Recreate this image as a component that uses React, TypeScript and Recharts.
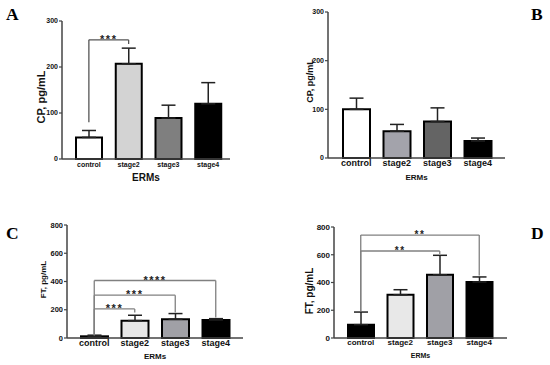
import React from "react";
import { BarChart, Bar, XAxis, YAxis, ErrorBar, Cell, ReferenceLine, Label } from "recharts";

const categories = ["control", "stage2", "stage3", "stage4"];

// A / B: CP, pg/mL
const cpTicks = [0, 100, 200, 300];
const cpA = [47, 207, 89, 120];
const cpAErr = [15, 34, 28, 46];
const cpB = [100, 55, 75, 35];
const cpBErr = [23, 14, 28, 6];

// C / D: FT, pg/mL
const ftTicks = [0, 200, 400, 600, 800];
const ftC = [12, 123, 133, 128];
const ftCErr = [8, 38, 40, 9];
const ftD = [96, 312, 456, 404];
const ftDErr = [91, 36, 140, 36];

// significance brackets (always from control)
const bracketsA = [{ to: "stage2", y: 259, from: 80, end: 250, stars: "***" }];
const bracketsC = [
  { to: "stage2", y: 206, from: 20, end: 180, stars: "***" },
  { to: "stage3", y: 303, from: 20, end: 180, stars: "***" },
  { to: "stage4", y: 407, from: 20, end: 145, stars: "****" },
];
const bracketsD = [
  { to: "stage3", y: 627, from: 195, end: 605, stars: "**" },
  { to: "stage4", y: 742, from: 195, end: 450, stars: "**" },
];

const fillsA = ["#ffffff", "#d3d3d3", "#7f7f7f", "#000000"];
const fillsB = ["#ffffff", "#a3a3ab", "#646464", "#000000"];
const fillsC = ["#000000", "#e6e6e6", "#a0a0a6", "#000000"];
const fillsD = ["#000000", "#e8e8e8", "#a0a0a6", "#000000"];

const FONT = "'Liberation Sans', Arial, sans-serif";
const AXIS = "#444";

interface Bracket {
  to: string;
  y: number;
  from: number;
  end: number;
  stars: string;
}

function YTitle(props: any) {
  const vb = props.viewBox || { x: 0, y: 0, width: 0, height: 0 };
  const x = vb.x + props.tx;
  const y = vb.y + vb.height / 2 + props.ty;
  return (
    <text
      x={x}
      y={y}
      transform={`rotate(-90, ${x}, ${y})`}
      textAnchor="middle"
      dominantBaseline="central"
      fontSize={props.size}
      fontWeight="bold"
      fontFamily={FONT}
      fill="#111"
    >
      {props.title}
    </text>
  );
}

function Panel(p: any) {
  const data = categories.map((name, i) => ({
    name,
    value: p.values[i],
    err: [0, p.errs[i]],
  }));
  const brackets: Bracket[] = p.brackets || [];
  return (
    <div style={{ position: "absolute", left: p.left, top: p.top }}>
      <BarChart width={p.width} height={p.height} data={data} margin={p.margin}>
        <XAxis
          dataKey="name"
          height={p.xHeight}
          padding={p.pad}
          axisLine={{ stroke: AXIS, strokeWidth: 1.5 }}
          tickLine={false}
          tickSize={0}
          tickMargin={p.tickMargin}
          interval={0}
          tick={{ fontSize: p.tickFont, fontWeight: "bold", fill: "#111", fontFamily: FONT }}
        >
          <Label
            value="ERMs"
            position="insideBottom"
            offset={p.xTitleOffset}
            style={{ fontSize: p.xTitleFont, fontWeight: "bold", fill: "#111", fontFamily: FONT }}
          />
        </XAxis>
        <YAxis
          width={p.yWidth}
          domain={[0, p.ticks[p.ticks.length - 1]]}
          ticks={p.ticks}
          interval={0}
          axisLine={{ stroke: AXIS, strokeWidth: 1.5 }}
          tickLine={{ stroke: AXIS, strokeWidth: 1.2 }}
          tickSize={3}
          tickMargin={1}
          tick={{ fontSize: p.yTickFont, fontWeight: "bold", fill: "#111", fontFamily: FONT }}
          label={<YTitle title={p.yTitle} tx={p.tx} ty={p.ty} size={p.yTitleFont} />}
        />
        <Bar dataKey="value" barSize={p.barSize} stroke="#000" strokeWidth={2} isAnimationActive={false}>
          {data.map((d, i) => (
            <Cell key={d.name} fill={p.fills[i]} />
          ))}
          <ErrorBar dataKey="err" width={7} stroke="#222" strokeWidth={1.5} isAnimationActive={false} />
        </Bar>
        {brackets.map((b) => (
          <ReferenceLine
            key={b.to + "-l"}
            segment={[{ x: "control", y: b.from }, { x: "control", y: b.y }]}
            stroke={p.bracketColor}
            strokeWidth={1.3}
          />
        ))}
        {brackets.map((b) => (
          <ReferenceLine
            key={b.to + "-h"}
            segment={[{ x: "control", y: b.y }, { x: b.to, y: b.y }]}
            stroke={p.bracketColor}
            strokeWidth={1.3}
            label={{
              value: b.stars,
              position: "top",
              offset: -3,
              fill: "#222",
              fontSize: p.starFont,
              fontWeight: "bold",
              fontFamily: FONT,
              style: { letterSpacing: 1.5 },
            }}
          />
        ))}
        {brackets.map((b) => (
          <ReferenceLine
            key={b.to + "-r"}
            segment={[{ x: b.to, y: b.y }, { x: b.to, y: b.end }]}
            stroke={p.bracketColor}
            strokeWidth={1.3}
          />
        ))}
      </BarChart>
    </div>
  );
}

export default function App() {
  const letter = { fontSize: 17.5, fontWeight: "bold" as const, fontFamily: "'Liberation Serif', 'Times New Roman', serif", fill: "#000" };
  return (
    <div style={{ position: "absolute", left: 0, top: 0, width: 550, height: 365, background: "#fff", overflow: "hidden" }}>
      <Panel
        left={0} top={0} width={240} height={182}
        margin={{ top: 21, right: 10, bottom: 0, left: 30 }}
        yWidth={32} xHeight={23} pad={{ left: 7, right: 2 }} barSize={26}
        values={cpA} errs={cpAErr} fills={fillsA} ticks={cpTicks} brackets={bracketsA}
        tickFont={7} yTickFont={7} tickMargin={3}
        xTitleFont={10} xTitleOffset={1}
        yTitle="CP, pg/mL" yTitleFont={11} tx={11} ty={7}
        starFont={11} bracketColor="#555"
      />
      <Panel
        left={275} top={0} width={275} height={182}
        margin={{ top: 12, right: 45, bottom: 0, left: 20 }}
        yWidth={33} xHeight={24} pad={{ left: 8, right: 7 }} barSize={27}
        values={cpB} errs={cpBErr} fills={fillsB} ticks={cpTicks}
        tickFont={9} yTickFont={7} tickMargin={2}
        xTitleFont={8} xTitleOffset={2}
        yTitle="CP, pg/mL" yTitleFont={9} tx={15} ty={-4}
      />
      <Panel
        left={0} top={182} width={275} height={183}
        margin={{ top: 43, right: 32, bottom: 0, left: 30 }}
        yWidth={37} xHeight={27} pad={{ left: 7, right: 7 }} barSize={27}
        values={ftC} errs={ftCErr} fills={fillsC} ticks={ftTicks} brackets={bracketsC}
        tickFont={9} yTickFont={7.5} tickMargin={2}
        xTitleFont={8} xTitleOffset={6.5}
        yTitle="FT, pg/mL" yTitleFont={8} tx={13.5} ty={-2}
        starFont={11} bracketColor="#808080"
      />
      <Panel
        left={275} top={182} width={275} height={183}
        margin={{ top: 45, right: 43, bottom: 0, left: 25 }}
        yWidth={34} xHeight={27} pad={{ left: 7, right: 8 }} barSize={26}
        values={ftD} errs={ftDErr} fills={fillsD} ticks={ftTicks} brackets={bracketsD}
        tickFont={8} yTickFont={8} tickMargin={1}
        xTitleFont={7} xTitleOffset={7.5}
        yTitle="FT, pg/mL" yTitleFont={10} tx={9} ty={8.5}
        starFont={10} bracketColor="#808080"
      />
      <svg width={550} height={365} style={{ position: "absolute", left: 0, top: 0, pointerEvents: "none" }}>
        <text x={6} y={20} {...letter}>A</text>
        <text x={531} y={20} {...letter}>B</text>
        <text x={6} y={239} {...letter}>C</text>
        <text x={531} y={239} {...letter}>D</text>
      </svg>
    </div>
  );
}
